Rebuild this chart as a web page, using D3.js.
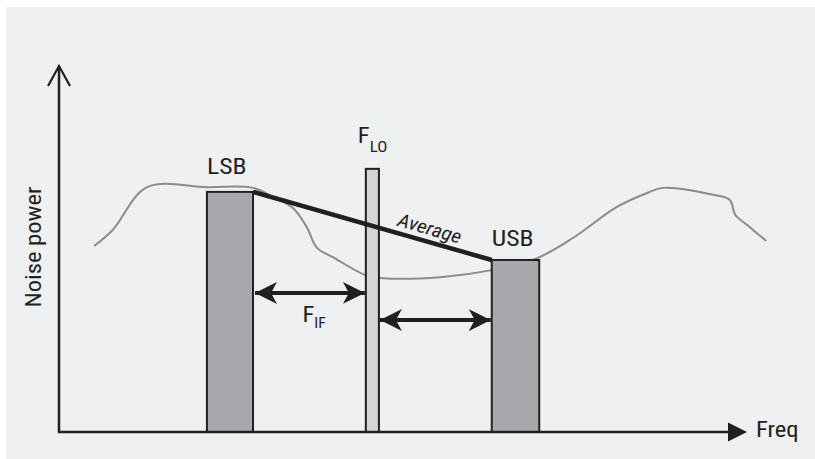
<!DOCTYPE html>
<html><head><meta charset="utf-8">
<script src="https://cdn.jsdelivr.net/npm/d3@7"></script>
<style>
html,body{margin:0;padding:0;background:#fff;}
svg{display:block;}
text{font-family:"Liberation Sans Narrow","Roboto Condensed","DejaVu Sans Condensed",sans-serif;fill:#231f20;}
</style></head>
<body>
<svg id="chart" width="815" height="459"></svg>
<script>
// ---- data (arbitrary units: freq 0..100, power 0..100) ----
const bandNames = ["LSB", "LO", "USB"];
const bandStart = [21.5, 44.6, 62.9];
const bandEnd   = [28.2, 46.5, 69.8];
const bandPower = [65.6, 71.9, 47.0];

const noiseFreq  = [5.1, 7.8, 12.8, 21.5, 28.2, 31.1, 34.0, 36.0, 37.5, 39.8, 44.5, 46.7, 55.4, 63.1, 69.5, 74.7, 81.1, 85.5, 87.8, 95.1, 97.5, 98.3, 100.0, 102.8];
const noisePower = [50.8, 55.2, 66.9, 66.9, 66.7, 64.2, 61.2, 56.0, 50.3, 47.8, 42.9, 42.1, 42.3, 44.3, 47.5, 53.0, 61.5, 65.3, 66.7, 64.8, 63.4, 59.3, 56.6, 52.2];

const arrowPower = [38.0, 30.6]; // heights of the two F_IF arrows

const svg = d3.select("#chart");
const W = 815, H = 459;
const ink = "#231f20";
const SX = 1.12; // horizontal widening to mimic the condensed face

// panel background
svg.append("rect").attr("x", 6).attr("y", 7).attr("width", W - 6).attr("height", H - 7).attr("fill", "#eff0f2");

const x = d3.scaleLinear().domain([0, 100]).range([59, 747]);
const y = d3.scaleLinear().domain([0, 100]).range([432, 66]);

const defs = svg.append("defs");
function barb(id, orient) {
  const m = defs.append("marker").attr("id", id).attr("viewBox", "0 -11 22 22")
    .attr("refX", 22).attr("refY", 0).attr("markerWidth", 22).attr("markerHeight", 22)
    .attr("markerUnits", "userSpaceOnUse").attr("orient", orient);
  m.append("path").attr("d", "M22,0 L0,-11 L6,0 L0,11 Z").attr("fill", ink);
}
barb("barbEnd", "auto");
barb("barbStart", "auto-start-reverse");

function label(px, py, size, str, rot, anchor, italic) {
  const t = svg.append("text")
    .attr("transform", `translate(${px},${py})${rot ? ` rotate(${rot})` : ""} scale(${SX},1)`)
    .attr("font-size", size).attr("text-anchor", anchor || "start");
  if (italic) t.attr("font-style", "italic");
  if (str) t.text(str);
  return t;
}

// noise curve
const line = d3.line().x((d, i) => x(noiseFreq[i])).y((d, i) => y(noisePower[i])).curve(d3.curveCatmullRom.alpha(0.5));
svg.append("path").datum(noiseFreq).attr("d", line).attr("fill", "none")
  .attr("stroke", "#8a8b8d").attr("stroke-width", 2);

// bars
const fills = ["#a7a8ab", "#d4d5d7", "#a7a8ab"];
svg.selectAll("rect.band").data(bandNames).enter().append("rect").attr("class", "band")
  .attr("x", (d, i) => x(bandStart[i])).attr("y", (d, i) => y(bandPower[i]))
  .attr("width", (d, i) => x(bandEnd[i]) - x(bandStart[i]))
  .attr("height", (d, i) => y(0) - y(bandPower[i]))
  .attr("fill", (d, i) => fills[i]).attr("stroke", ink).attr("stroke-width", 2);

// average line LSB top-right -> USB top-left
const ax1 = x(bandEnd[0]), ay1 = y(bandPower[0]), ax2 = x(bandStart[2]), ay2 = y(bandPower[2]);
svg.append("line").attr("x1", ax1).attr("y1", ay1).attr("x2", ax2).attr("y2", ay2)
  .attr("stroke", ink).attr("stroke-width", 4.5);
const ang = Math.atan2(ay2 - ay1, ax2 - ax1) * 180 / Math.PI;
const tt = 0.745;
label(ax1 + (ax2 - ax1) * tt - 3, ay1 + (ay2 - ay1) * tt - 8, 19, "Average", ang, "middle", true);

// axes
const axisG = svg.append("g");
axisG.append("line").attr("x1", x(0)).attr("y1", y(0)).attr("x2", x(0)).attr("y2", y(100) + 1)
  .attr("stroke", ink).attr("stroke-width", 2.5);
axisG.append("path").attr("d", `M${x(0) - 11},${y(100) + 20} L${x(0)},${y(100)} L${x(0) + 11},${y(100) + 20}`)
  .attr("fill", "none").attr("stroke", ink).attr("stroke-width", 2.2);
axisG.append("line").attr("x1", x(0) - 1).attr("y1", y(0)).attr("x2", x(100) - 18).attr("y2", y(0))
  .attr("stroke", ink).attr("stroke-width", 2.5);
axisG.append("path").attr("d", `M${x(100)},${y(0)} L${x(100) - 19},${y(0) - 9.5} L${x(100) - 19},${y(0) + 9.5} Z`).attr("fill", ink);

label(x(100) + 9, y(0) + 5, 22, "Freq");
label(x(0) - 18, (y(0) + y(100)) / 2 - 2, 22, "Noise power", -90, "middle");

// band labels
label(x(bandStart[0]), y(bandPower[0]) - 18, 23, "LSB");
label(x(bandStart[2]), y(bandPower[2]) - 14, 23, "USB");
const flo = label(x(bandStart[1]) - 8, y(bandPower[1]) - 26, 22);
flo.append("tspan").text("F");
flo.append("tspan").attr("font-size", 15).attr("dy", 9).text("LO");

// F_IF arrows
svg.append("line").attr("x1", x(bandEnd[0]) + 2).attr("x2", x(bandStart[1]) - 1)
  .attr("y1", y(arrowPower[0])).attr("y2", y(arrowPower[0]))
  .attr("stroke", ink).attr("stroke-width", 4)
  .attr("marker-start", "url(#barbStart)").attr("marker-end", "url(#barbEnd)");
svg.append("line").attr("x1", x(bandEnd[1]) + 1).attr("x2", x(bandStart[2]) - 1)
  .attr("y1", y(arrowPower[1])).attr("y2", y(arrowPower[1]))
  .attr("stroke", ink).attr("stroke-width", 4)
  .attr("marker-start", "url(#barbStart)").attr("marker-end", "url(#barbEnd)");
const fif = label((x(bandEnd[0]) + x(bandStart[1])) / 2 - 7, y(arrowPower[0]) + 29, 22);
fif.append("tspan").text("F");
fif.append("tspan").attr("font-size", 14).attr("dy", 6).text("IF");
</script>
</body></html>
